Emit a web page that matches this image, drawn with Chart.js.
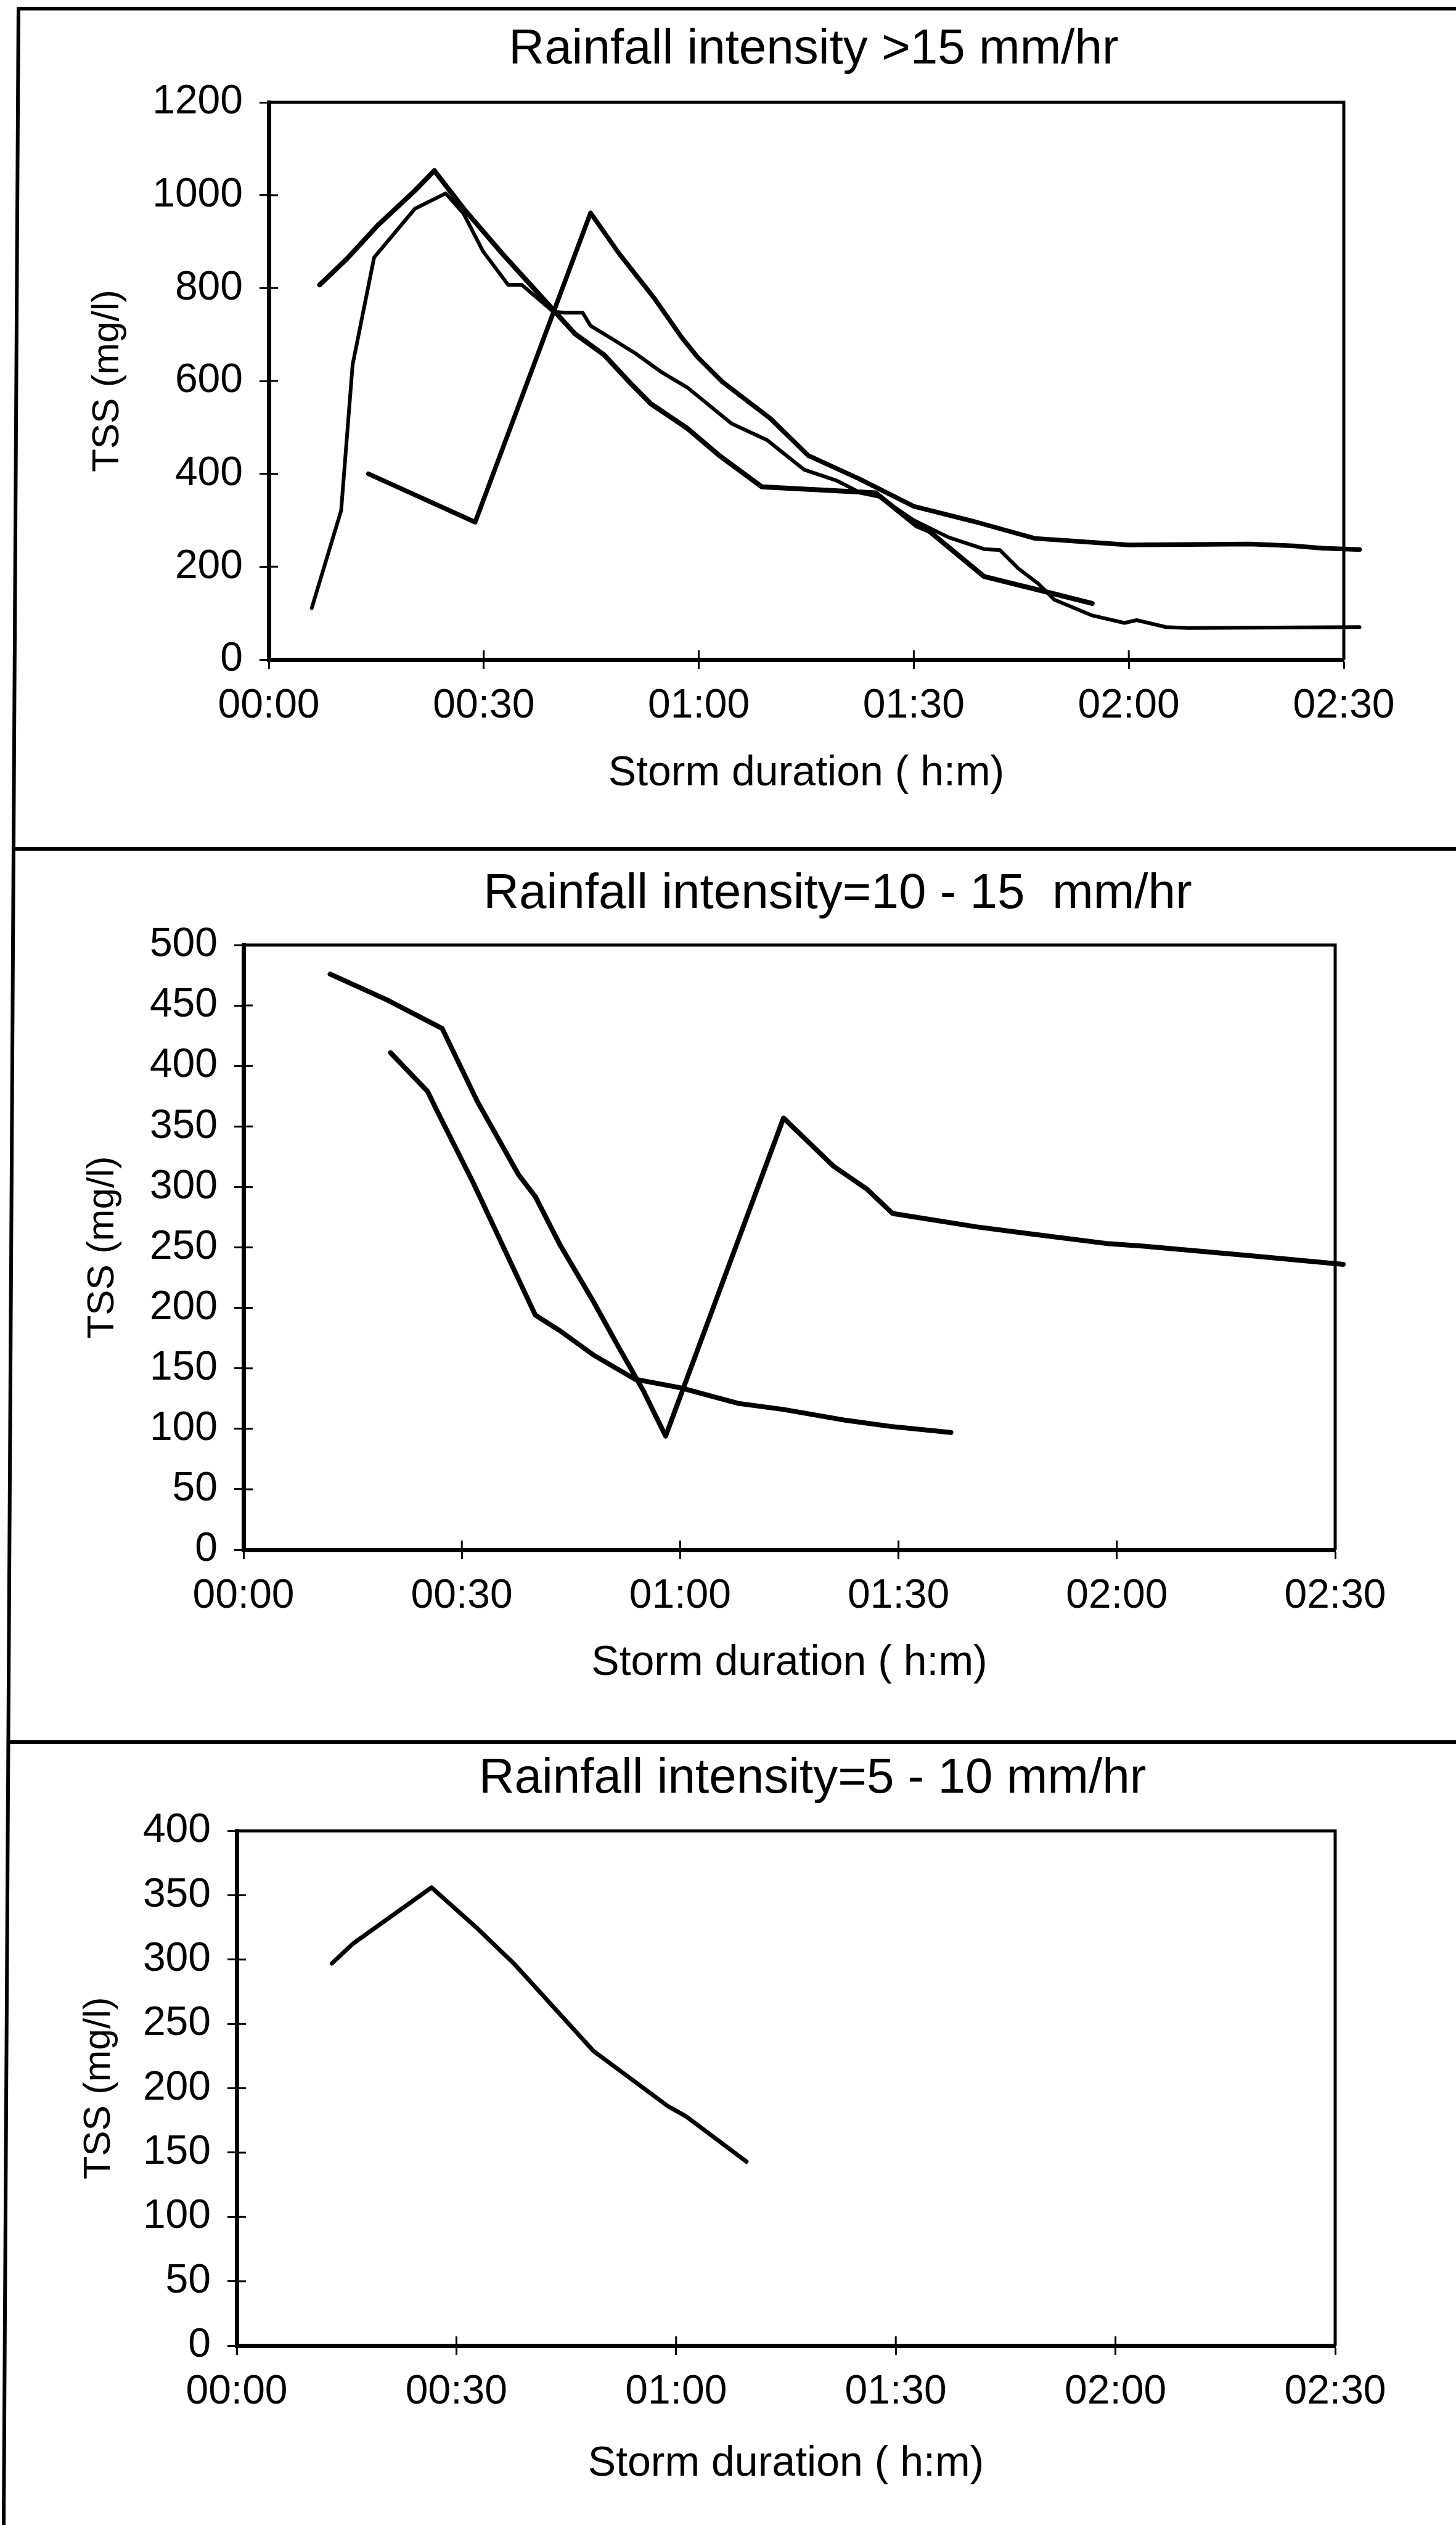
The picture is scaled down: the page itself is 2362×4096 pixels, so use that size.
<!DOCTYPE html>
<html>
<head>
<meta charset="utf-8">
<script src="https://cdn.jsdelivr.net/npm/chart.js@4.4.1/dist/chart.umd.min.js"></script>
<style>
  html, body { margin: 0; padding: 0; background: #fff; }
  #page { position: relative; width: 2362px; height: 4096px; overflow: hidden; background: #fff; }
  #page canvas { position: absolute; left: 0; }
  #rules { position: absolute; left: 0; top: 0; }
</style>
</head>
<body>
<div id="page">
  <canvas id="high" width="2362" height="1377" style="top:0;width:2362px;height:1377px"></canvas>
  <canvas id="mid" width="2362" height="1449" style="top:1377px;width:2362px;height:1449px"></canvas>
  <canvas id="low" width="2362" height="1270" style="top:2826px;width:2362px;height:1270px"></canvas>
  <svg id="rules" width="2362" height="4096">
    <g stroke="#000" stroke-width="6" fill="none">
      <line x1="30" y1="11" x2="6" y2="4096"/>
      <line x1="27" y1="14" x2="2362" y2="14"/>
      <line x1="24" y1="1377" x2="2362" y2="1377"/>
      <line x1="14" y1="2826" x2="2362" y2="2826"/>
    </g>
  </svg>
</div>
<script>
const timeLabels = ['00:00', '00:30', '01:00', '01:30', '02:00', '02:30'];

// storms with rainfall intensity > 15 mm/hr (minutes from start, TSS mg/l)
const highMinA = [7.1, 10.9, 15.2, 20.4, 23.1, 27.2, 32.6, 35.3, 39.7, 42.7, 46.8, 50.6, 53.3, 58.4, 62.9, 68.8, 84.7, 90.4, 92.2, 99.8, 102.9, 107.4, 114.9];
const highTssA = [807, 863, 935, 1010, 1053, 971, 874, 828, 753, 702, 656, 593, 551, 498, 439, 372, 359, 288, 276, 179, 167, 150, 121];

const highMinB = [6.0, 10.1, 11.7, 14.7, 20.4, 24.7, 27.2, 29.9, 33.4, 35.3, 39.7, 41.3, 43.8, 44.9, 48.4, 51.1, 54.9, 58.4, 64.6, 69.5, 74.7, 79.3, 82.6, 85.1, 90.0, 94.9, 99.8, 102.0, 104.6, 107.4, 109.6, 114.9, 119.4, 121.1, 125.2, 128.3, 152.2];
const highTssB = [111, 321, 635, 866, 971, 1004, 960, 879, 807, 807, 749, 747, 747, 719, 686, 660, 618, 586, 508, 473, 409, 385, 359, 351, 300, 263, 238, 236, 196, 163, 129, 95, 79, 85, 70, 68, 70];

const highMinC = [13.9, 28.8, 44.9, 48.9, 53.8, 57.6, 59.8, 63.3, 70.0, 75.3, 76.2, 82.4, 90.0, 98.5, 106.9, 111.8, 120.0, 136.9, 143.0, 147.0, 152.2];
const highTssC = [400, 296, 962, 874, 778, 694, 652, 598, 519, 439, 433, 389, 330, 297, 261, 256, 247, 249, 245, 240, 237];

// rainfall intensity 10 - 15 mm/hr
const midMinA = [11.9, 19.6, 27.3, 32.1, 37.8, 40.1, 43.5, 48.1, 51.5, 54.9, 58.0, 74.2, 81.1, 85.7, 89.2, 100.7, 107.1, 118.9, 123.7, 138.6, 151.1];
const midTssA = [476, 455, 431, 371, 310, 292, 252, 205, 168, 132, 94, 357, 317, 298, 278, 267, 262, 253, 251, 243, 236];

const midMinB = [20.2, 25.3, 26.5, 31.6, 40.1, 43.5, 48.1, 53.8, 60.0, 68.0, 74.2, 82.8, 88.9, 97.2];
const midTssB = [411, 379, 364, 303, 194, 181, 161, 141, 134, 121, 116, 107, 102, 97];

// rainfall intensity 5 - 10 mm/hr
const lowMin = [13.0, 15.8, 26.6, 32.9, 38.0, 48.7, 58.9, 61.4, 69.6];
const lowTss = [297, 312, 356, 324, 296, 229, 186, 178, 143];

const FONT = "'Liberation Sans', Arial, Helvetica, sans-serif";
const TICK = 15;

// plot frame (top + right), inner half of the cross ticks, panel heading
const frame = {
  id: 'frame',
  afterDraw(chart, args, o) {
    const { ctx, chartArea: a, scales: { x, y } } = chart;
    ctx.save();
    ctx.strokeStyle = '#000';
    ctx.lineWidth = 5;
    ctx.beginPath();
    ctx.moveTo(a.left, a.top);
    ctx.lineTo(a.right, a.top);
    ctx.lineTo(a.right, a.bottom);
    ctx.stroke();

    ctx.lineWidth = 3;
    ctx.beginPath();
    x.ticks.forEach(t => {
      const px = x.getPixelForValue(t.value);
      ctx.moveTo(px, a.bottom);
      ctx.lineTo(px, a.bottom - TICK);
    });
    y.ticks.forEach(t => {
      const py = y.getPixelForValue(t.value);
      ctx.moveTo(a.left, py);
      ctx.lineTo(a.left + TICK, py);
    });
    ctx.stroke();

    ctx.fillStyle = '#000';
    ctx.font = '80px ' + FONT;
    ctx.textAlign = 'center';
    ctx.textBaseline = 'middle';
    ctx.fillText(o.text, o.x, o.y);
    ctx.restore();
  }
};

function series(mins, tss, width) {
  return {
    data: mins.map((m, i) => ({ x: m, y: tss[i] })),
    borderColor: '#000',
    borderWidth: width,
    pointRadius: 0,
    tension: 0,
    clip: false,
    borderJoinStyle: 'round',
    borderCapStyle: 'round'
  };
}

function panel(id, box, yMax, yStep, heading, datasets) {
  const canvas = document.getElementById(id);
  const W = canvas.width, H = canvas.height;
  const XH = 260;
  const tickFont = { family: FONT, size: 66, lineHeight: 1.2 };
  const xFont = { family: FONT, size: 68, lineHeight: 1.2 };
  const yFont = { family: FONT, size: 62, lineHeight: 1.2 };
  const grid = { display: true, drawOnChartArea: false, drawTicks: true, tickLength: TICK, tickWidth: 3, tickColor: '#000' };

  return new Chart(canvas, {
    type: 'line',
    data: { datasets },
    options: {
      responsive: false,
      animation: false,
      devicePixelRatio: 1,
      layout: { padding: { left: 0, top: box.top, right: W - box.right, bottom: H - box.bottom - XH } },
      plugins: {
        legend: { display: false },
        tooltip: { enabled: false },
        frame: { text: heading, x: box.tx, y: box.ty }
      },
      scales: {
        x: {
          type: 'linear',
          min: 0,
          max: 150,
          afterFit: s => { s.height = XH; },
          grid,
          border: { display: true, color: '#000', width: 7 },
          ticks: {
            stepSize: 30,
            autoSkip: false,
            maxRotation: 0,
            padding: 21,
            color: '#000',
            font: tickFont,
            callback: v => timeLabels[Math.round(v / 30)]
          },
          title: {
            display: true,
            text: 'Storm duration ( h:m)',
            color: '#000',
            font: xFont,
            padding: { top: 0, bottom: box.bottom + XH - box.xTitle - xFont.size * 0.6 }
          }
        },
        y: {
          type: 'linear',
          min: 0,
          max: yMax,
          afterFit: s => { s.width = box.left; },
          grid,
          border: { display: true, color: '#000', width: 7 },
          ticks: {
            stepSize: yStep,
            autoSkip: false,
            padding: 27,
            color: '#000',
            font: tickFont,
            callback: v => String(v)
          },
          title: {
            display: true,
            text: 'TSS (mg/l)',
            color: '#000',
            font: yFont,
            padding: { top: box.yTitle - yFont.size * 0.6, bottom: 0 }
          }
        }
      }
    },
    plugins: [frame]
  });
}

panel('high',
  { left: 436, right: 2180, top: 166, bottom: 1070, tx: 1320, ty: 81, xTitle: 1255, yTitle: 175 },
  1200, 200, 'Rainfall intensity >15 mm/hr',
  [series(highMinA, highTssA, 8), series(highMinB, highTssB, 6), series(highMinC, highTssC, 7.5)]);

panel('mid',
  { left: 395, right: 2166, top: 156, bottom: 1137, tx: 1359, ty: 74, xTitle: 1321, yTitle: 167 },
  500, 50, 'Rainfall intensity=10 - 15  mm/hr',
  [series(midMinA, midTssA, 8), series(midMinB, midTssB, 8)]);

panel('low',
  { left: 384, right: 2166, top: 144, bottom: 979, tx: 1318, ty: 60, xTitle: 1171, yTitle: 161 },
  400, 50, 'Rainfall intensity=5 - 10 mm/hr',
  [series(lowMin, lowTss, 7)]);
</script>
</body>
</html>
